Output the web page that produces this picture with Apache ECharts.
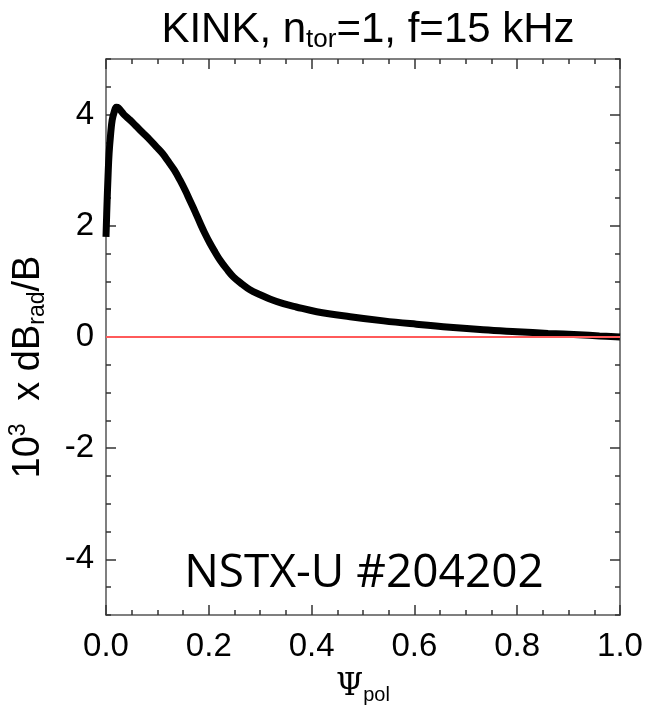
<!DOCTYPE html>
<html>
<head>
<meta charset="utf-8">
<script src="https://cdn.jsdelivr.net/npm/echarts@6/dist/echarts.min.js"></script>
<style>
html,body{margin:0;padding:0;background:#fff;}
#chart{width:645px;height:710px;}
</style>
</head>
<body>
<div id="chart"></div>
<script>
// Data
const psiPol = [0, 0.002, 0.004, 0.006, 0.009, 0.012, 0.016, 0.02, 0.024, 0.035, 0.047, 0.06, 0.073, 0.085, 0.098, 0.11, 0.121, 0.133, 0.144, 0.155, 0.163, 0.173, 0.183, 0.192, 0.202, 0.212, 0.222, 0.235, 0.248, 0.265, 0.28, 0.3, 0.32, 0.345, 0.37, 0.41, 0.475, 0.54, 0.604, 0.669, 0.734, 0.8, 0.86, 0.92, 0.96, 1.0];
const dBrad = [1.8, 2.4, 2.9, 3.3, 3.65, 3.9, 4.05, 4.13, 4.12, 4.0, 3.9, 3.78, 3.66, 3.55, 3.42, 3.3, 3.16, 3.0, 2.82, 2.62, 2.46, 2.26, 2.05, 1.87, 1.69, 1.53, 1.38, 1.22, 1.08, 0.95, 0.85, 0.76, 0.68, 0.6, 0.54, 0.455, 0.365, 0.29, 0.23, 0.175, 0.13, 0.095, 0.065, 0.04, 0.02, 0.0];
const zeroLineX = [0, 1];
const zeroLineY = [0, 0];
const yMajorTicks = [-4, -2, 0, 2, 4];

const curve = psiPol.map((x, i) => [x, dBrad[i]]);
const zeroLine = zeroLineX.map((x, i) => [x, zeroLineY[i]]);

const FONT = '"Liberation Sans", Arial, Helvetica, sans-serif';
const axisLineStyle = { color: '#555', width: 1.5 };

const chart = echarts.init(document.getElementById('chart'), null, { renderer: 'canvas' });

function xAx(pos, showLabel, name) {
  return {
    type: 'value', position: pos, min: 0, max: 1, interval: 0.2,
    axisLine: { show: true, onZero: false, lineStyle: axisLineStyle },
    axisTick: { show: true, inside: true, length: 10, lineStyle: { color: '#333', width: 1.5 } },
    minorTick: { show: true, splitNumber: 4, length: 5, lineStyle: { color: '#333', width: 1.5 } },
    splitLine: { show: false },
    axisLabel: { show: showLabel, color: '#000', fontSize: 33, fontFamily: FONT, margin: 15,
      formatter: v => v.toFixed(1) },
    name: name || '',
    nameLocation: 'middle',
    nameGap: 54,
    nameTextStyle: {
      rich: {
        psi: { fontSize: 31, fontFamily: '"DejaVu Serif", "Liberation Serif", serif', color: '#000', fontWeight: 'normal' },
        sub: { fontSize: 20, fontFamily: FONT, color: '#000', fontWeight: 'normal', padding: [16, 0, 0, 0] }
      }
    }
  };
}

function yAx(pos, showLabel, showLine, major, name) {
  const a = {
    type: 'value', position: pos, min: -5, max: 5, interval: 0.5,
    axisLine: { show: showLine, onZero: false, lineStyle: axisLineStyle },
    axisTick: { show: true, inside: true, length: major ? 10 : 5, lineStyle: { color: '#333', width: 1.5 } },
    splitLine: { show: false },
    axisLabel: { show: showLabel, color: '#000', fontSize: 33, fontFamily: FONT, margin: 12,
      customValues: yMajorTicks, formatter: v => String(v) },
  };
  if (major) a.axisTick.customValues = yMajorTicks;
  if (name) {
    a.name = name;
    a.nameLocation = 'middle';
    a.nameGap = 56;
    a.nameRotate = 90;
    a.nameTextStyle = {
      rich: {
        m: { fontSize: 38, fontFamily: FONT, color: '#000', fontWeight: 'normal' },
        end: { fontSize: 38, fontFamily: FONT, color: '#000', fontWeight: 'normal', padding: [0, 60, 0, 0] },
        sup: { fontSize: 23, fontFamily: FONT, color: '#000', fontWeight: 'normal', padding: [0, 12, 20, 0] },
        sub: { fontSize: 23, fontFamily: FONT, color: '#000', fontWeight: 'normal', padding: [18, 0, 0, 0] }
      }
    };
  }
  return a;
}

const option = {
  backgroundColor: '#fff',
  animation: false,
  title: {
    text: '{m|KINK, n}{sub|tor}{m|=1, f=15 kHz}',
    left: 363, textAlign: 'center', top: 3,
    textStyle: {
      fontWeight: 'normal',
      rich: {
        m: { fontSize: 42, fontFamily: FONT, color: '#000', fontWeight: 'normal' },
        sub: { fontSize: 26, fontFamily: FONT, color: '#000', fontWeight: 'normal', padding: [19, 0, 0, 0] }
      }
    }
  },
  grid: { left: 106, right: 25, top: 59, bottom: 95, containLabel: false, outerBoundsMode: 'none' },
  xAxis: [
    xAx('bottom', true, '{psi|Ψ}{sub|pol}'),
    xAx('top', false)
  ],
  yAxis: [
    yAx('left', true, true, false, '{m|10}{sup|3}{m| x dB}{sub|rad}{end|/B}'),
    yAx('right', false, true, false),
    yAx('left', false, false, true),
    yAx('right', false, false, true)
  ],
  graphic: [{
    type: 'text', x: 364, y: 574, z: 10,
    style: { text: 'NSTX-U #204202', fill: '#000', fontSize: 46,
      fontFamily: '"Open Sans", "Noto Sans", sans-serif', align: 'center', verticalAlign: 'middle' }
  }],
  series: [
    {
      type: 'line', data: curve, xAxisIndex: 0, yAxisIndex: 0,
      showSymbol: false, smooth: 0.4, lineStyle: { color: '#000', width: 7 }, z: 2
    },
    {
      type: 'line', data: zeroLine, xAxisIndex: 0, yAxisIndex: 0,
      showSymbol: false, lineStyle: { color: '#ff5a5a', width: 2 }, z: 3
    }
  ]
};
chart.setOption(option);
</script>
</body>
</html>
